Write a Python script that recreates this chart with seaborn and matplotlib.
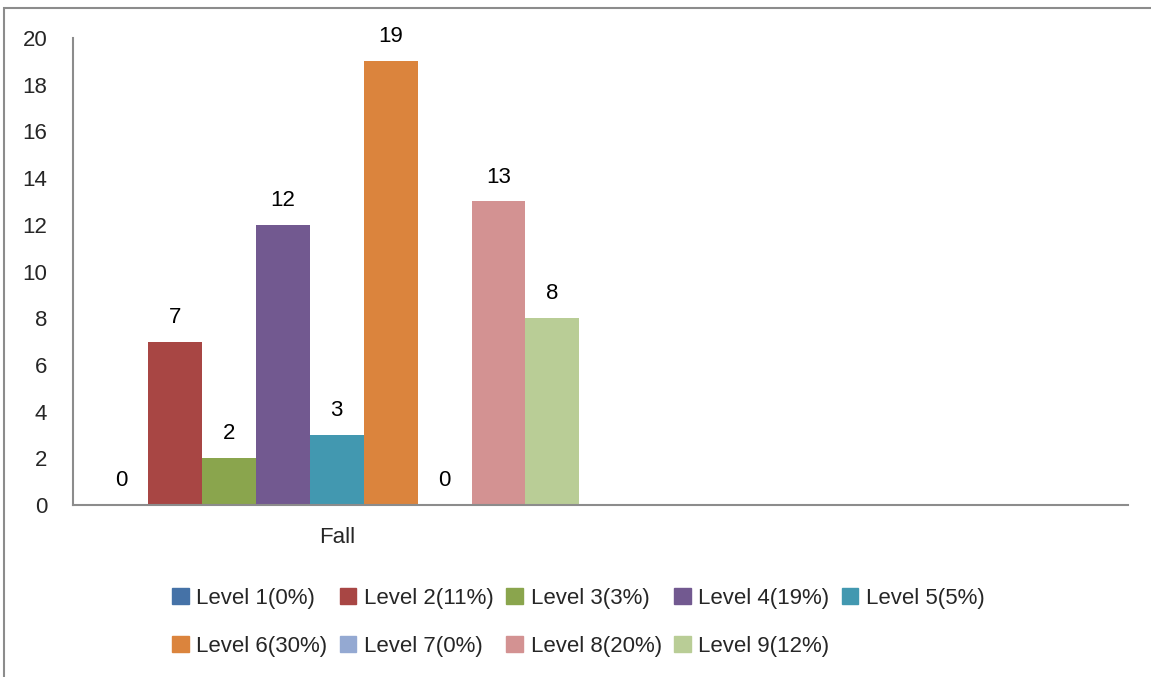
import pandas as pd
import matplotlib.pyplot as plt
import seaborn as sns
from matplotlib.patches import Rectangle

# Chart data
categories = ["Fall", " "]
levels = ["Level 1(0%)", "Level 2(11%)", "Level 3(3%)", "Level 4(19%)", "Level 5(5%)",
          "Level 6(30%)", "Level 7(0%)", "Level 8(20%)", "Level 9(12%)"]
counts = [0, 7, 2, 12, 3, 19, 0, 13, 8]
colors = ["#4572A7", "#A84644", "#8AA54D", "#725990", "#4298B0",
          "#DB843D", "#94A9D2", "#D39292", "#B9CD96"]
y_ticks = [0, 2, 4, 6, 8, 10, 12, 14, 16, 18, 20]

df = pd.DataFrame({"term": ["Fall"] * len(levels), "level": levels, "count": counts})

sns.set_theme(style="white")
plt.rcParams['font.family'] = ['Liberation Sans', 'DejaVu Sans']

fig = plt.figure(figsize=(11.51, 6.77), dpi=100)
ax = fig.add_axes([73 / 1151, 1 - 505 / 677, (1128 - 73) / 1151, (505 - 38) / 677])

sns.barplot(data=df, x="term", y="count", hue="level", order=categories,
            hue_order=levels, palette=colors, width=0.92, ax=ax,
            saturation=1, errorbar=None, legend=False, linewidth=0)

for cont in ax.containers:
    ax.bar_label(cont, padding=10, fontsize=16, color="black")

ax.set_ylim(0, 20)
ax.set_xlim(-0.5, 1.5)
ax.set_yticks(y_ticks)
ax.tick_params(axis="y", length=0, labelsize=16, pad=18.5)
ax.tick_params(axis="x", length=0, labelsize=16, pad=16)
ax.set_xlabel("")
ax.set_ylabel("")
for s in ["top", "right"]:
    ax.spines[s].set_visible(False)
for s in ["left", "bottom"]:
    ax.spines[s].set_color("#8c8c8c")
    ax.spines[s].set_linewidth(1.5)

# legend in row-major order across 5 columns
handles = [Rectangle((0, 0), 1, 1, color=c) for c in colors]
order = [0, 5, 1, 6, 2, 7, 3, 8, 4]
fig.legend([handles[i] for i in order], [levels[i] for i in order],
           ncol=5, loc="upper left", bbox_to_anchor=(163 / 1151, 1 - 579 / 677),
           frameon=False, fontsize=16, handlelength=0.75, handleheight=0.75,
           handletextpad=0.35, columnspacing=0.55, labelspacing=1.2,
           borderaxespad=0)

# outer chart border (left and top edges visible)
fig.add_artist(Rectangle((4 / 1151, -0.1), 1.5, 1 - 8 / 677 + 0.1,
                         transform=fig.transFigure, fill=False,
                         edgecolor="#8c8c8c", linewidth=1.5))

fig.savefig("out.png", dpi=100)
